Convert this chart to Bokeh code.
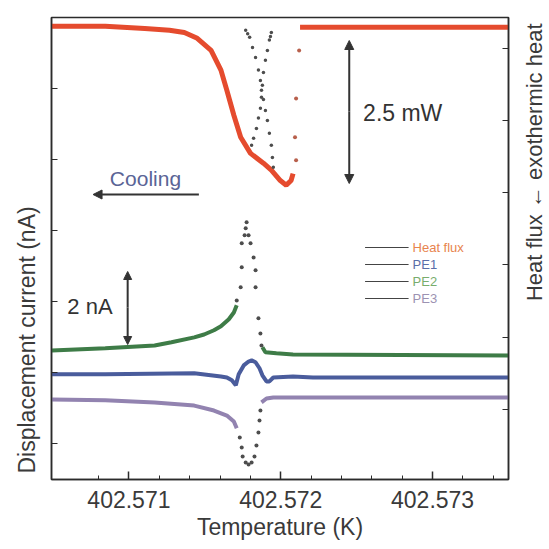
import math
from bokeh.plotting import figure
from bokeh.layouts import row
from bokeh.core.properties import value
from bokeh.models import (Range1d, LinearAxis, FixedTicker, PrintfTickFormatter,
                          CustomJSTickFormatter, Label, Arrow, NormalHead, Title)
from bokeh.embed import file_html
from bokeh.resources import INLINE

# ---------------- data (temperature in K, currents in nA, heat flux in mW) -------------
heat_flux_T = [402.570492, 402.570844, 402.571104, 402.571267, 402.571365, 402.571450,
               402.571541, 402.571606, 402.571645, 402.571691, 402.571736, 402.571801,
               402.571886, 402.571938, 402.571997, 402.572036, 402.572068, 402.572081]
heat_flux_v = [7.88, 7.88, 7.84, 7.81, 7.77, 7.67, 7.46, 7.12, 6.77, 6.34, 5.96, 5.68,
               5.51, 5.39, 5.21, 5.13, 5.21, 5.33]
heat_flux_jump_T = [402.572101, 402.572094, 402.572101, 402.572121]
heat_flux_jump_v = [5.56, 5.96, 6.63, 7.46]
heat_flux_after_T = [402.572127, 402.573502]
heat_flux_after_v = [7.86, 7.86]

dsc_a_T = [402.571769, 402.571782, 402.571795, 402.571814, 402.571834, 402.571853,
           402.571866, 402.571873, 402.571886, 402.571899, 402.571912, 402.571925,
           402.571938, 402.571945, 402.571951]
dsc_a_v = [7.81, 7.75, 7.69, 7.51, 7.34, 7.12, 6.94, 6.77, 6.61, 6.42, 6.25, 6.03,
           5.82, 5.61, 5.44]
dsc_b_T = [402.571938, 402.571932, 402.571925, 402.571912, 402.571899, 402.571886,
           402.571879, 402.571873, 402.571866, 402.571853, 402.571840, 402.571821,
           402.571808]
dsc_b_v = [7.77, 7.70, 7.64, 7.46, 7.29, 7.08, 6.86, 6.65, 6.46, 6.29, 6.11, 5.94, 5.82]

pe2_T = [402.570492, 402.570844, 402.571169, 402.571280, 402.571430, 402.571495,
         402.571560, 402.571606, 402.571658, 402.571691, 402.571710]
pe2_v = [2.63, 2.69, 2.77, 2.86, 3.00, 3.08, 3.20, 3.31, 3.51, 3.70, 3.90]
pe2_peak_T = [402.571710, 402.571736, 402.571743, 402.571743, 402.571762, 402.571769,
              402.571775, 402.571788, 402.571801, 402.571821, 402.571834, 402.571834,
              402.571853, 402.571866, 402.571873]
pe2_peak_v = [4.04, 4.41, 4.97, 5.65, 5.87, 6.07, 6.24, 5.87, 5.65, 5.25, 4.89, 4.41,
              3.54, 3.11, 2.77]
pe2_after_T = [402.571879, 402.571899, 402.571971, 402.572081, 402.573502]
pe2_after_v = [2.72, 2.58, 2.55, 2.52, 2.49]

pe1_T = [402.570492, 402.570844, 402.571430, 402.571606, 402.571645, 402.571678,
         402.571704, 402.571723, 402.571756, 402.571788, 402.571808, 402.571834,
         402.571860, 402.571879, 402.571906, 402.571925, 402.571951, 402.572081,
         402.572212, 402.573502]
pe1_v = [1.96, 1.96, 1.99, 1.90, 1.87, 1.79, 1.65, 1.96, 2.21, 2.32, 2.35, 2.30,
         2.13, 1.93, 1.76, 1.76, 1.87, 1.90, 1.87, 1.87]

pe3_T = [402.570492, 402.570844, 402.571169, 402.571430, 402.571560, 402.571645,
         402.571691, 402.571710]
pe3_v = [1.25, 1.23, 1.17, 1.08, 0.94, 0.80, 0.63, 0.44]
pe3_dip_T = [402.571730, 402.571743, 402.571749, 402.571769, 402.571788, 402.571808,
             402.571827, 402.571840, 402.571853, 402.571860, 402.571866]
pe3_dip_v = [0.18, -0.10, -0.35, -0.52, -0.58, -0.52, -0.35, -0.04, 0.32, 0.66, 0.94]
pe3_after_T = [402.571873, 402.571906, 402.571951, 402.572081, 402.573502]
pe3_after_v = [1.17, 1.28, 1.31, 1.31, 1.31]

x_ticks = [402.571, 402.572, 402.573]
x_minor = [402.5708, 402.5712, 402.5714, 402.5716, 402.5718, 402.5722, 402.5724,
           402.5726, 402.5728, 402.5732, 402.5734]
left_ticks = [0, 2, 4, 6, 8, 10]
right_ticks = [1.25, 2.5, 3.75, 5.0, 6.25, 7.5]

legend_names = ["Heat flux", "PE1", "PE2", "PE3"]
legend_colors = ["#e8844e", "#5a6ea8", "#78ad6c", "#9c92b2"]

x_title = "Temperature (K)"
left_title = "Displacement current (nA)"
right_title = "Heat flux \u2190 exothermic heat"

# ---------------- colours / fonts ----------------
RED = "#e54b2e"
GREEN = "#3e7c47"
BLUE = "#4a5c9c"
PURPLE = "#9283b0"
DOT = "#4d4d4d"
FONT = "Liberation Sans"
TXT = "#3a3a3a"

XL, XR = 402.57049, 402.57350
YB, YT = -1.0, 12.0

# picture-pixel helpers for annotation placement (frame: x 46..508, y 17..479)
def tx(px):
    return XL + (px - 46) * (XR - XL) / 462.0

def ny(py):
    return YB + (479 - py) * (YT - YB) / 462.0

p = figure(width=510, height=549, x_range=Range1d(XL, XR), y_range=Range1d(YB, YT),
           output_backend="svg", toolbar_location=None,
           min_border_left=46, min_border_right=2, min_border_top=17, min_border_bottom=70)
p.background_fill_color = "white"
p.border_fill_color = "white"
p.grid.visible = False
p.outline_line_color = "#2b2b2b"
p.outline_line_width = 1.5

p.extra_y_ranges = {"hf": Range1d(0.04, 8.03)}

# bottom axis
xa = p.xaxis[0]
xa.ticker = FixedTicker(ticks=x_ticks, minor_ticks=x_minor)
xa.formatter = PrintfTickFormatter(format="%.3f")
xa.major_tick_in = 8
xa.major_tick_out = 0
xa.minor_tick_in = 4
xa.minor_tick_out = 0
xa.axis_line_color = "#2b2b2b"
xa.axis_line_width = 1.5
xa.major_tick_line_color = "#2b2b2b"
xa.major_tick_line_width = 1.5
xa.minor_tick_line_color = "#2b2b2b"
xa.major_label_text_font = FONT
xa.major_label_text_font_size = "23px"
xa.major_label_text_color = TXT
xa.major_label_standoff = 11
xa.axis_label = x_title
xa.axis_label_text_font = FONT
xa.axis_label_text_font_size = "23px"
xa.axis_label_text_font_style = "normal"
xa.axis_label_text_color = TXT
xa.axis_label_standoff = 3

# left axis (no tick labels); its title is placed as an off-centre side title
ya = p.yaxis[0]
ya.ticker = FixedTicker(ticks=left_ticks, minor_ticks=[])
ya.formatter = CustomJSTickFormatter(code="return ''")
ya.major_tick_in = 6
ya.major_tick_out = 0
ya.minor_tick_line_color = None
ya.axis_line_color = "#2b2b2b"
ya.axis_line_width = 1.5
ya.major_tick_line_color = "#2b2b2b"
ya.major_label_standoff = 0

p.add_layout(Title(text=left_title, align="left", offset=6, standoff=23,
                   text_font=FONT, text_font_size="23px", text_font_style="normal",
                   text_color=TXT), "left")

# right axis (heat flux, no tick labels)
ra = LinearAxis(y_range_name="hf", ticker=FixedTicker(ticks=right_ticks, minor_ticks=[]),
                formatter=CustomJSTickFormatter(code="return ''"))
ra.major_tick_in = 6
ra.major_tick_out = 0
ra.minor_tick_line_color = None
ra.axis_line_color = "#2b2b2b"
ra.axis_line_width = 1.5
ra.major_tick_line_color = "#2b2b2b"
ra.major_label_standoff = 0
p.add_layout(ra, "right")

# ---------------- data marks ----------------
p.line(heat_flux_T, heat_flux_v, y_range_name="hf", line_color=RED, line_width=5)
p.line(heat_flux_after_T, heat_flux_after_v, y_range_name="hf", line_color=RED, line_width=5)
p.scatter(heat_flux_jump_T, heat_flux_jump_v, y_range_name="hf", size=4,
          fill_color="#b8604c", line_color=None)
p.scatter(dsc_a_T, dsc_a_v, y_range_name="hf", size=3.5, fill_color=DOT, line_color=None)
p.scatter(dsc_b_T, dsc_b_v, y_range_name="hf", size=3.5, fill_color=DOT, line_color=None)

p.line(pe2_T, pe2_v, line_color=GREEN, line_width=4)
p.line(pe2_after_T, pe2_after_v, line_color=GREEN, line_width=4)
p.scatter(pe2_peak_T, pe2_peak_v, size=4, fill_color=DOT, line_color=None)

p.line(pe1_T, pe1_v, line_color=BLUE, line_width=4)

p.line(pe3_T, pe3_v, line_color=PURPLE, line_width=4)
p.line(pe3_after_T, pe3_after_v, line_color=PURPLE, line_width=4)
p.scatter(pe3_dip_T, pe3_dip_v, size=4, fill_color=DOT, line_color=None)

# ---------------- annotations ----------------
p.add_layout(Label(x=tx(141), y=ny(178), text="Cooling", text_font=FONT,
                   text_font_size="21px", text_color="#5a6496",
                   text_align="center", text_baseline="middle"))
p.add_layout(Arrow(x_start=tx(195), y_start=ny(194), x_end=tx(88), y_end=ny(194),
                   line_color="#333333", line_width=2,
                   end=NormalHead(size=9, fill_color="#333333", line_color="#333333")))

p.add_layout(Arrow(x_start=tx(347), y_start=ny(111), x_end=tx(347), y_end=ny(40),
                   line_color="#333333", line_width=2,
                   end=NormalHead(size=9, fill_color="#333333", line_color="#333333")))
p.add_layout(Arrow(x_start=tx(347), y_start=ny(111), x_end=tx(347), y_end=ny(183),
                   line_color="#333333", line_width=2,
                   end=NormalHead(size=9, fill_color="#333333", line_color="#333333")))
p.add_layout(Label(x=tx(361), y=ny(112), text="2.5 mW", text_font=FONT,
                   text_font_size="23px", text_color="#333333",
                   text_align="left", text_baseline="middle"))

p.add_layout(Arrow(x_start=tx(123), y_start=ny(307), x_end=tx(123), y_end=ny(271),
                   line_color="#333333", line_width=2,
                   end=NormalHead(size=8, fill_color="#333333", line_color="#333333")))
p.add_layout(Arrow(x_start=tx(123), y_start=ny(307), x_end=tx(123), y_end=ny(344),
                   line_color="#333333", line_width=2,
                   end=NormalHead(size=8, fill_color="#333333", line_color="#333333")))
p.add_layout(Label(x=tx(62), y=ny(306), text="2 nA", text_font=FONT,
                   text_font_size="22px", text_color="#333333",
                   text_align="left", text_baseline="middle"))

# legend (manual, coloured texts)
rows = [247, 264, 281, 298]
for name, col, ry in zip(legend_names, legend_colors, rows):
    p.segment(x0=tx(363), y0=ny(ry), x1=tx(407), y1=ny(ry), line_color="#444444", line_width=1)
    p.add_layout(Label(x=tx(411), y=ny(ry), text=name, text_font=FONT,
                       text_font_size="13px", text_color=col,
                       text_align="left", text_baseline="middle"))

# ---------------- right-hand title strip (reads bottom to top) ----------------
s = figure(width=39, height=549, x_range=Range1d(0, 39), y_range=Range1d(0, 549),
           output_backend="svg", toolbar_location=None, x_axis_type=None, y_axis_type=None,
           min_border=0)
s.outline_line_color = None
s.grid.visible = False
s.background_fill_color = "white"
s.border_fill_color = "white"
s.text(x=[24], y=[549 - 172], text=[right_title], angle=math.pi / 2,
       text_font=value(FONT), text_font_size=value("22px"), text_color=TXT,
       text_align="center", text_baseline="middle")

layout = row(p, s)
open("out.html", "w").write(file_html(layout, INLINE))
